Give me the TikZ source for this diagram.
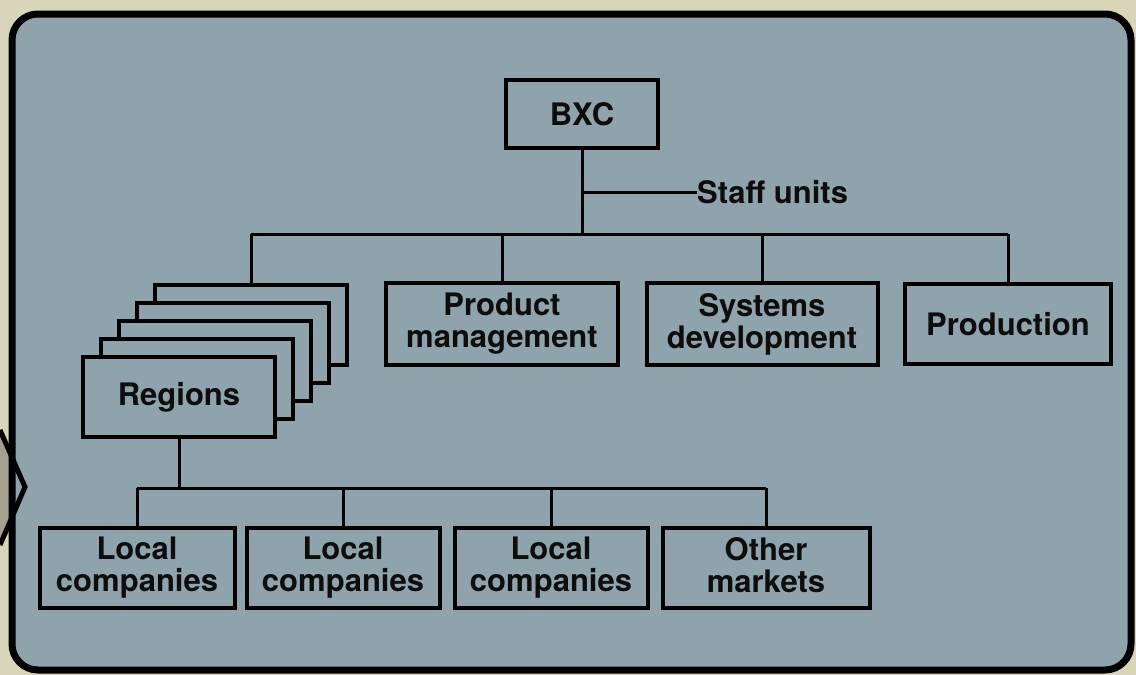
\documentclass[tikz,border=0pt]{standalone}
\usepackage{fontspec}
\setmainfont{TeX Gyre Heros}
\usepackage{tikz}
\usetikzlibrary{calc}
\definecolor{paper}{HTML}{D9D4BA}
\definecolor{panel}{HTML}{8FA3AC}
\definecolor{fold}{HTML}{A69E8E}
\tikzset{
  unit/.style={draw, line width=4pt, fill=panel, align=center, inner sep=0pt,
    minimum height=80pt, font=\fontsize{31}{32}\selectfont\bfseries, text=black!95},
  tag/.style={inner sep=0pt, font=\fontsize{31}{32}\selectfont\bfseries, text=black!95},
  link/.style={line width=3pt}
}

\begin{document}
\begin{tikzpicture}[x=1pt,y=-1pt]
\useasboundingbox (0,0) rectangle (1136,675);
\fill[paper] (0,0) rectangle (1136,675);
\fill[fold] (0,430) -- (12,457) -- (12,517) -- (0,545) -- cycle;
\fill[panel, rounded corners=26pt] (12,14) rectangle (1131,670);
\draw[line width=5pt] (0,430) -- (25,487) -- (0,545);
\draw[line width=7pt, rounded corners=26pt] (12,14) rectangle (1131,670);
% top of the tree
\node[unit, minimum width=152pt, minimum height=68pt] (bxc) at (582,114) {BXC};
\node[tag, anchor=west] (staff) at (697,192) {Staff units};
\foreach \i in {4,3,2,1}
  \node[unit, minimum width=192pt] (reg\i) at ({179+18*\i},{397-18*\i}) {};
\node[unit, minimum width=192pt] (regions) at (179,397) {Regions};
\node[unit, minimum width=232pt, minimum height=82pt] (prod) at (502,324) {Product\\management};
\node[unit, minimum width=231pt, minimum height=82pt] (sys) at (762,324) {Systems\\development};
\node[unit, minimum width=206pt] (production) at (1008,324) {Production};
% markets
\node[unit, minimum width=195pt] (local1) at (137,568) {Local\\companies};
\node[unit, minimum width=193pt] (local2) at (343,568) {Local\\companies};
\node[unit, minimum width=193pt] (local3) at (551,568) {Local\\companies};
\node[unit, minimum width=207pt] (other) at (766,568) {Other\\markets\vphantom{p}};
\coordinate (bus1) at (0,234);
\coordinate (bus2) at (0,488);
\draw[link] (bxc.south) -- (bxc.south |- bus1);
\draw[link] (bxc.south |- staff.west) -- (staff.west);
\draw[link] (reg4.north |- bus1) -- (production.north |- bus1);
\foreach \n in {reg4,prod,sys,production}
  \draw[link] (\n.north) -- (\n.north |- bus1);
\draw[link] (regions.south) -- (regions.south |- bus2);
\draw[link] (local1.north |- bus2) -- (other.north |- bus2);
\foreach \n in {local1,local2,local3,other}
  \draw[link] (\n.north) -- (\n.north |- bus2);
\end{tikzpicture}
\end{document}
